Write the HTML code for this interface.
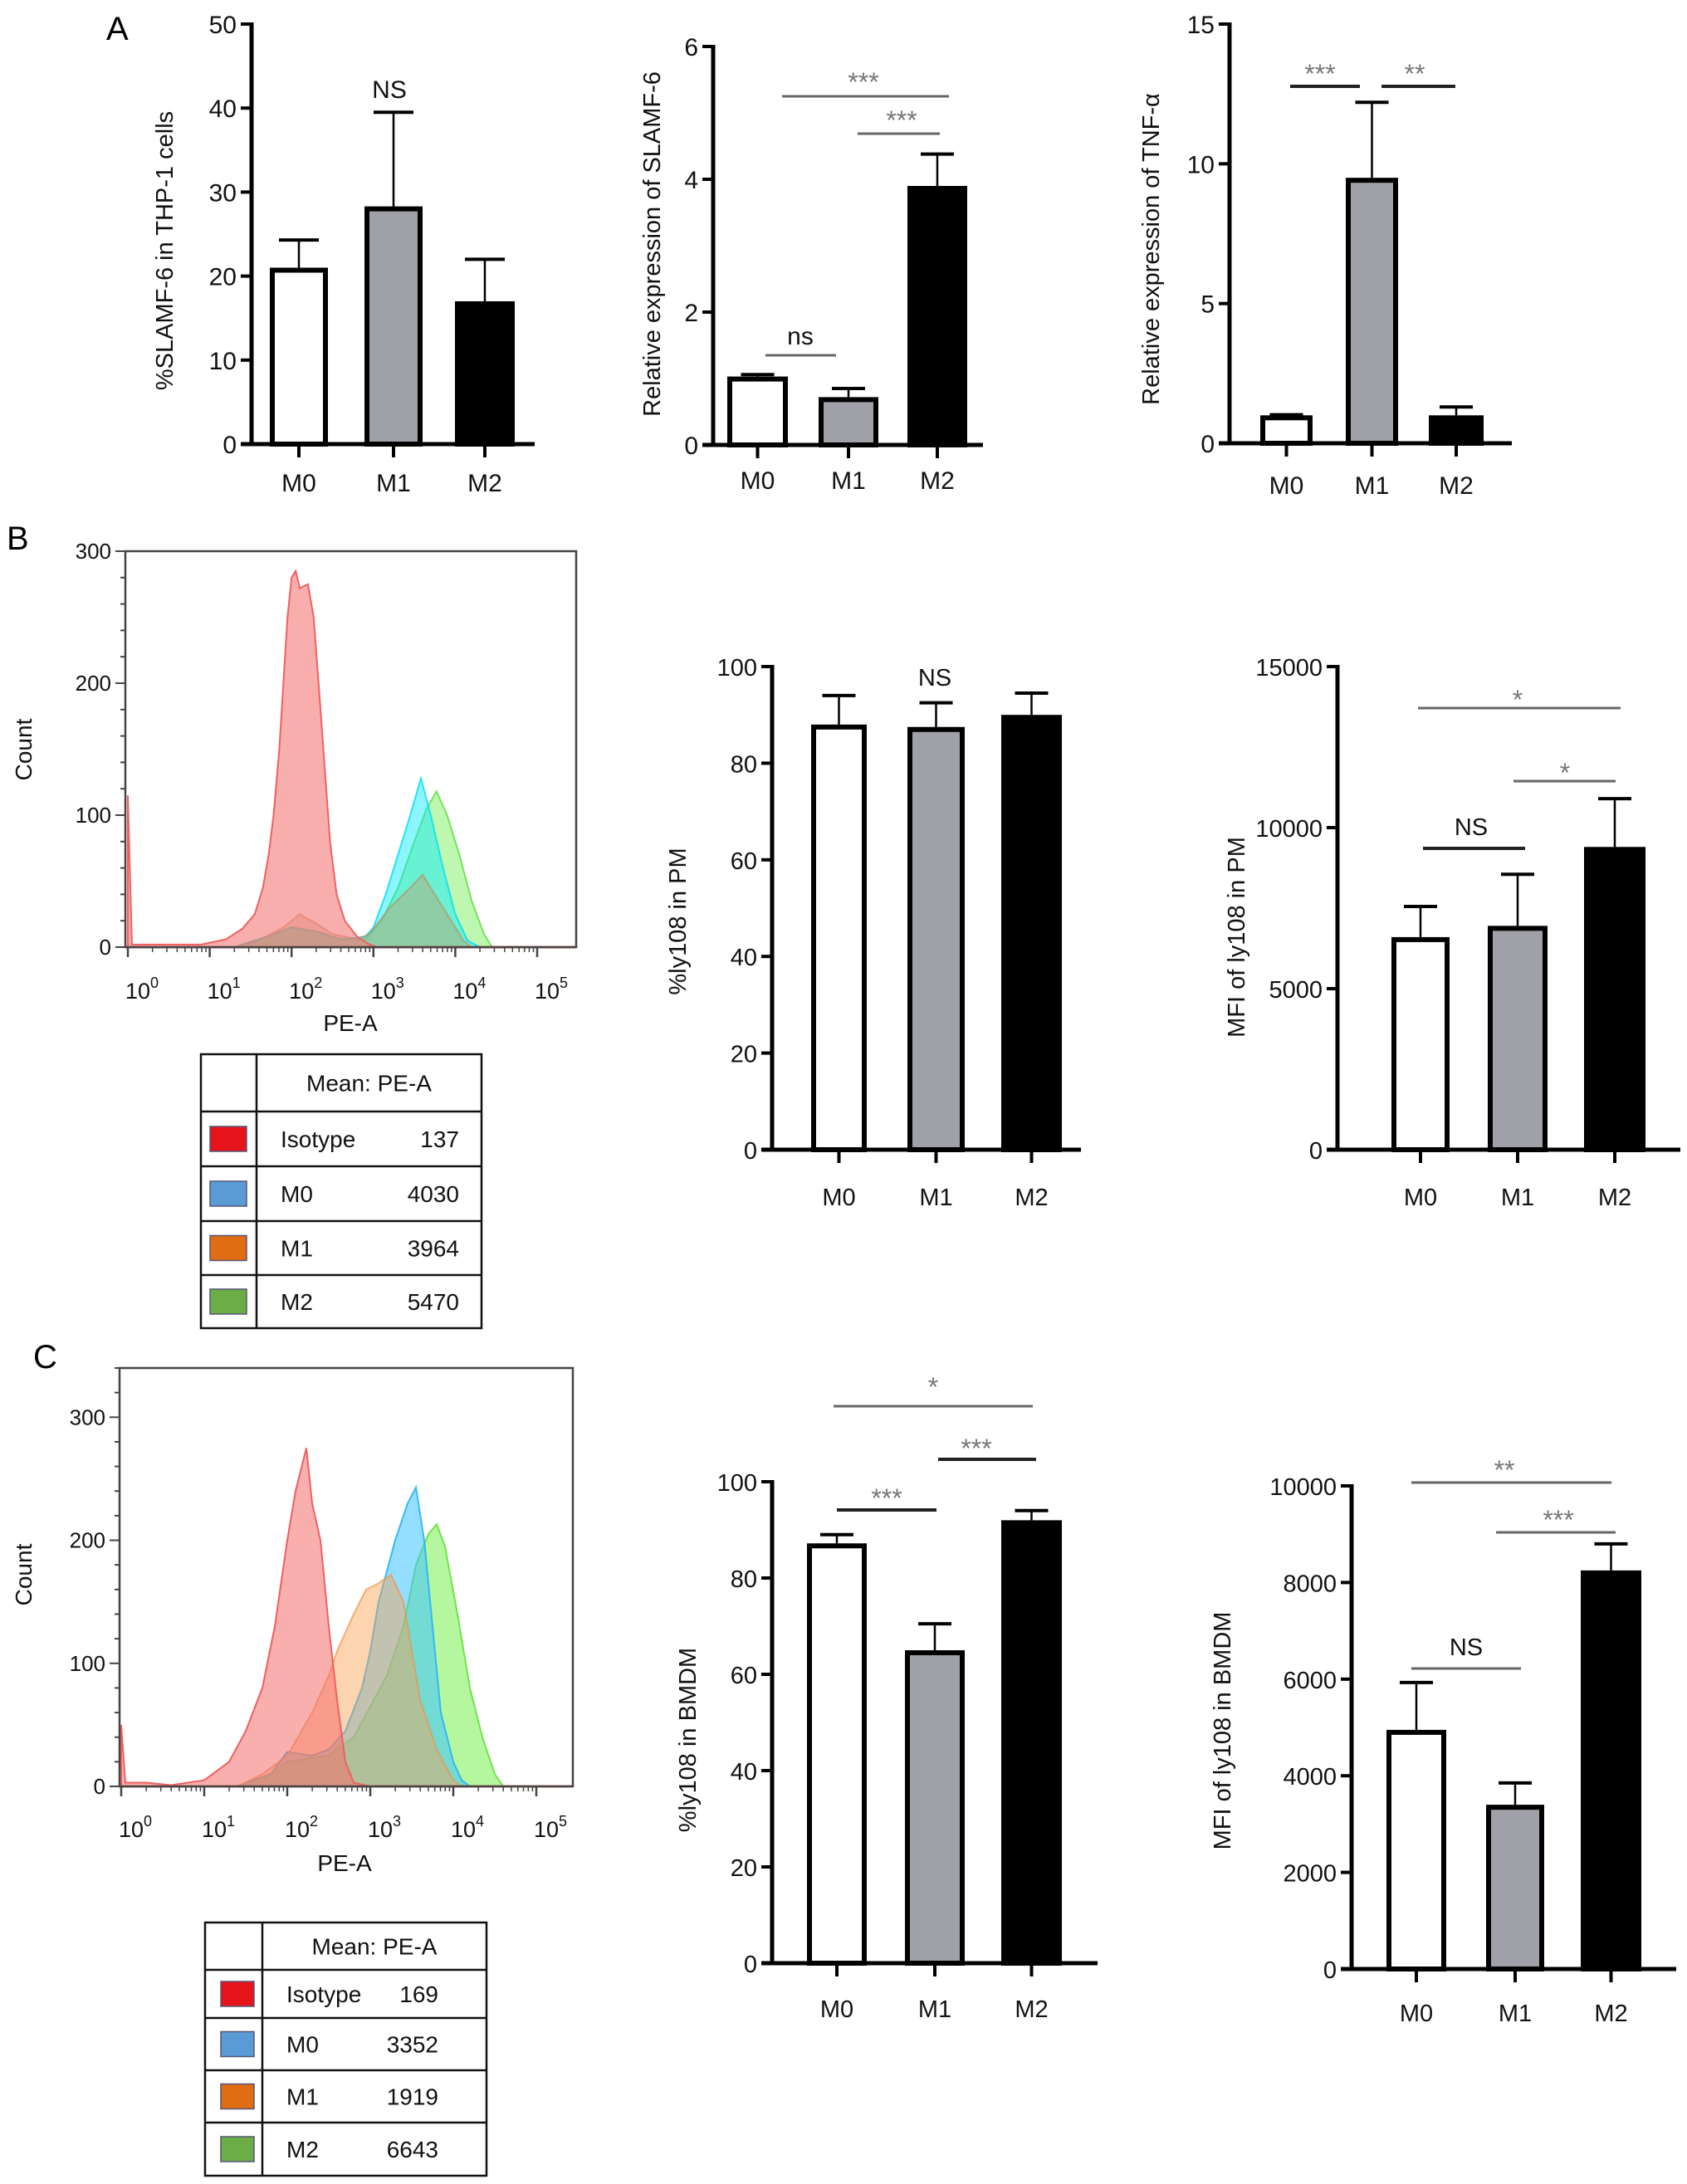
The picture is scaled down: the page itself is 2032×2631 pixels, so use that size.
<!DOCTYPE html>
<html><head><meta charset="utf-8">
<style>
html,body{margin:0;padding:0;background:#fff;}
svg{display:block;font-family:"Liberation Sans",Arial,sans-serif;}
</style></head>
<body>
<svg id="fig" xmlns="http://www.w3.org/2000/svg" width="2032" height="2631" viewBox="0 0 2032 2631">
<rect width="2032" height="2631" fill="#fff"/>
<text x="128" y="48" font-size="40">A</text>
<text x="8" y="662" font-size="40">B</text>
<text x="40" y="1648" font-size="40">C</text>
</svg>
<script>
// ---------- data ----------
const categories = ['M0','M1','M2'];
const a1Values = [21, 28.3, 17];
const a1Errors = [24.3, 39.5, 22];
const a1Ticks = [0,10,20,30,40,50];
const a2Values = [1.03, 0.72, 3.9];
const a2Errors = [1.06, 0.85, 4.38];
const a2Ticks = [0,2,4,6];
const a3Values = [1.0, 9.5, 1.0];
const a3Errors = [1.02, 12.2, 1.3];
const a3Ticks = [0,5,10,15];
const b2Values = [88, 87.5, 90];
const b2Errors = [94, 92.5, 94.5];
const b2Ticks = [0,20,40,60,80,100];
const b3Values = [6600, 6950, 9400];
const b3Errors = [7550, 8550, 10900];
const b3Ticks = [0,5000,10000,15000];
const c2Values = [87.2, 65, 92];
const c2Errors = [89, 70.5, 94];
const c2Ticks = [0,20,40,60,80,100];
const c3Values = [4950, 3400, 8250];
const c3Errors = [5930, 3850, 8800];
const c3Ticks = [0,2000,4000,6000,8000,10000];

// histogram curves: [log10 decade, count]
const bIsoCurve = [[0,115],[0.05,2],[0.9,2],[1.2,6],[1.4,14],[1.55,25],[1.65,45],[1.72,70],[1.78,100],[1.85,150],[1.9,200],[1.95,250],[2.0,280],[2.05,285],[2.1,272],[2.2,275],[2.27,250],[2.33,200],[2.4,140],[2.47,80],[2.55,40],[2.65,20],[2.8,8],[2.95,2],[3.05,0]];
const bM0Curve = [[1.3,0],[1.7,8],[2.0,15],[2.3,12],[2.6,6],[2.9,8],[3.0,15],[3.15,40],[3.3,70],[3.45,100],[3.58,128],[3.7,100],[3.85,60],[4.0,25],[4.15,5],[4.3,0]];
const bM1Curve = [[1.3,0],[1.6,5],[1.9,15],[2.1,25],[2.3,18],[2.5,10],[2.8,6],[2.95,10],[3.2,30],[3.45,45],[3.6,55],[3.75,40],[3.95,20],[4.1,5],[4.2,0]];
const bM2Curve = [[1.3,0],[1.7,8],[2.0,15],[2.3,12],[2.6,6],[2.9,6],[3.1,20],[3.3,45],[3.5,80],[3.65,105],[3.77,118],[3.9,100],[4.05,70],[4.2,35],[4.35,10],[4.45,0]];
const cIsoCurve = [[0,50],[0.05,3],[0.3,3],[0.6,1],[1.0,5],[1.3,20],[1.5,45],[1.7,80],[1.85,130],[2.0,200],[2.1,240],[2.23,275],[2.3,230],[2.4,200],[2.5,130],[2.6,70],[2.7,20],[2.8,3],[3.0,0]];
const cM0Curve = [[1.4,0],[1.8,10],[2.0,28],[2.3,25],[2.5,30],[2.7,45],[2.9,80],[3.0,110],[3.1,150],[3.3,200],[3.45,230],[3.55,243],[3.65,200],[3.75,130],[3.85,60],[4.0,20],[4.1,5],[4.2,0]];
const cM1Curve = [[1.4,0],[1.7,10],[2.0,25],[2.3,60],[2.5,90],[2.6,110],[2.8,140],[2.95,160],[3.1,165],[3.25,172],[3.4,150],[3.5,110],[3.6,70],[3.8,30],[4.0,5],[4.1,0]];
const cM2Curve = [[1.4,0],[1.8,10],[2.0,20],[2.5,25],[2.8,40],[3.0,65],[3.2,90],[3.4,130],[3.55,180],[3.7,205],[3.8,213],[3.9,195],[4.05,140],[4.2,80],[4.35,40],[4.5,10],[4.6,0]];
const histTickLabels = ['0','100','200','300'];
const decades = [0,1,2,3,4,5];
const legendNames = ['Isotype','M0','M1','M2'];
const bLegendValues = ['137','4030','3964','5470'];
const cLegendValues = ['169','3352','1919','6643'];

// ---------- helpers ----------
const NS='http://www.w3.org/2000/svg';
const svg=document.getElementById('fig');
function mk(tag, attrs, parent){
  const e=document.createElementNS(NS,tag);
  for(const k in attrs) e.setAttribute(k,attrs[k]);
  (parent||svg).appendChild(e);
  return e;
}
const barFills=['#ffffff','#a0a0a8','#000000'];

function drawBar(cfg){
  const g=mk('g',{});
  
  
  const yS=v=>cfg.y0-(v/cfg.max)*(cfg.y0-cfg.yTop);
  const ya=mk('line',{x1:cfg.ax,y1:cfg.yTop-2,x2:cfg.ax,y2:cfg.y0,stroke:'#000','stroke-width':5},g);
  
  
  cfg.ticks.forEach(t=>{
    const y=yS(t);
    mk('line',{x1:cfg.ax-13,y1:y,x2:cfg.ax,y2:y,stroke:'#000','stroke-width':4},g);
    const tl=mk('text',{x:cfg.ax-18,y:y+11,'font-size':cfg.fs,'text-anchor':'end',fill:'#111'},g);
    tl.textContent=String(t);
    
    
  });
  cfg.bars.forEach((b,i)=>{
    const x1=b[0],x2=b[1],cx=(x1+x2)/2,yv=yS(cfg.values[i]),ye=yS(cfg.errors[i]);
    const eb=mk('line',{x1:cx,y1:yv,x2:cx,y2:ye,stroke:'#000','stroke-width':2.5},g);
    
    
    mk('line',{x1:cx-cfg.cap,y1:ye,x2:cx+cfg.cap,y2:ye,stroke:'#000','stroke-width':4},g);
    const r=mk('rect',{x:x1+3,y:yv+3,width:x2-x1-6,height:Math.max(0,cfg.y0-yv-3),fill:barFills[i],stroke:'#000','stroke-width':6},g);
    
    
    mk('line',{x1:cx,y1:cfg.y0,x2:cx,y2:cfg.y0+16,stroke:'#000','stroke-width':4},g);
    const xl=mk('text',{x:cx,y:cfg.labelY,'font-size':cfg.fs,'text-anchor':'middle',fill:'#111'},g);
    xl.textContent=categories[i];
    
    
  });
  const xa=mk('line',{x1:cfg.ax-13,y1:cfg.y0,x2:cfg.endX,y2:cfg.y0,stroke:'#000','stroke-width':5},g);
  
  
  const t=mk('text',{x:cfg.titleX,y:cfg.titleY,'font-size':cfg.tfs,'text-anchor':'middle',fill:'#111',transform:`rotate(-90 ${cfg.titleX} ${cfg.titleY})`},g);
  t.textContent=cfg.title;
  
  
  (cfg.sig||[]).forEach(s=>{
    if(s.line){
      const l=mk('line',{x1:s.line[0],y1:s.line[2],x2:s.line[1],y2:s.line[2],stroke:s.dark?'#222':'#666','stroke-width':s.dark?4:3},g);
      
      
    }
    const st=mk('text',{x:s.tx,y:s.ty+(s.fs?0:6),'font-size':s.fs||32,'text-anchor':'middle',fill:s.txtDark?'#111':'#777'},g);
    st.textContent=s.text;
    
    
  });
}

drawBar({name:'chart-a1-slamf6-percent',ax:303,y0:535,yTop:29,max:50,ticks:a1Ticks,values:a1Values,errors:a1Errors,
  bars:[[325,395],[439,509],[548,620]],endX:644,labelY:592,fs:30,tfs:29,cap:24,
  title:'%SLAMF-6 in THP-1 cells',titleX:208,titleY:302,
  sig:[{text:'NS',tx:469,ty:118,fs:30,txtDark:true}]});
drawBar({name:'chart-a2-slamf6-expression',ax:859,y0:536,yTop:56,max:6,ticks:a2Ticks,values:a2Values,errors:a2Errors,
  bars:[[876,949],[986,1058],[1093,1165]],endX:1184,labelY:589,fs:30,tfs:29,cap:20,
  title:'Relative expression of SLAMF-6',titleX:795,titleY:294,
  sig:[{line:[942,1143,116],text:'***',tx:1040,ty:104},{line:[1033,1132,161],text:'***',tx:1086,ty:150},{line:[922,1007,428],text:'ns',tx:964,ty:415,fs:30,txtDark:true}]});
drawBar({name:'chart-a3-tnf-expression',ax:1481,y0:534,yTop:29,max:15,ticks:a3Ticks,values:a3Values,errors:a3Errors,
  bars:[[1518,1581],[1621,1684],[1721,1787]],endX:1821,labelY:595,fs:30,tfs:29,cap:20,
  title:'Relative expression of TNF-α',titleX:1396,titleY:300,
  sig:[{line:[1554,1638,104],dark:true,text:'***',tx:1590,ty:94},{line:[1664,1753,104],dark:true,text:'**',tx:1704,ty:94}]});
drawBar({name:'chart-b2-ly108-percent-pm',ax:930,y0:1385,yTop:803,max:100,ticks:b2Ticks,values:b2Values,errors:b2Errors,
  bars:[[977,1044],[1093,1162],[1206,1279]],endX:1302,labelY:1452,fs:29,tfs:29,cap:20,
  title:'%ly108 in PM',titleX:826,titleY:1110,
  sig:[{text:'NS',tx:1126,ty:826,fs:29,txtDark:true}]});
drawBar({name:'chart-b3-ly108-mfi-pm',ax:1611,y0:1385,yTop:803,max:15000,ticks:b3Ticks,values:b3Values,errors:b3Errors,
  bars:[[1676,1746],[1792,1864],[1908,1982]],endX:2024,labelY:1452,fs:29,tfs:29,cap:20,
  title:'MFI of ly108 in PM',titleX:1499,titleY:1129,
  sig:[{line:[1708,1952,853],text:'*',tx:1828,ty:848},{line:[1823,1946,941],text:'*',tx:1885,ty:936},{line:[1714,1837,1022],dark:true,text:'NS',tx:1772,ty:1006,fs:29,txtDark:true}]});
drawBar({name:'chart-c2-ly108-percent-bmdm',ax:930,y0:2365,yTop:1785,max:100,ticks:c2Ticks,values:c2Values,errors:c2Errors,
  bars:[[972,1044],[1090,1162],[1206,1279]],endX:1322,labelY:2430,fs:29,tfs:29,cap:20,
  title:'%ly108 in BMDM',titleX:838,titleY:2096,
  sig:[{line:[1004,1244,1694],text:'*',tx:1124,ty:1676},{line:[1130,1248,1758],dark:true,text:'***',tx:1176,ty:1750},{line:[1008,1128,1819],dark:true,text:'***',tx:1068,ty:1810}]});
drawBar({name:'chart-c3-ly108-mfi-bmdm',ax:1628,y0:2372,yTop:1790,max:10000,ticks:c3Ticks,values:c3Values,errors:c3Errors,
  bars:[[1670,1742],[1790,1860],[1904,1977]],endX:2019,labelY:2435,fs:29,tfs:29,cap:20,
  title:'MFI of ly108 in BMDM',titleX:1482,titleY:2085,
  sig:[{line:[1700,1941,1786],text:'**',tx:1812,ty:1776},{line:[1802,1946,1846],text:'***',tx:1877,ty:1836},{line:[1700,1832,2010],text:'NS',tx:1766,ty:1994,fs:29,txtDark:true}]});

// ---------- histograms ----------
function drawHist(cfg){
  const g=mk('g',{});
  
  
  const X=d=>cfg.x0+d*cfg.dec;
  const Y=c=>cfg.base-c/cfg.ymax*(cfg.base-cfg.T);
  cfg.curves.forEach(cv=>{
    let d=`M${X(cv.pts[0][0])},${cfg.base}`;
    cv.pts.forEach(p=>{d+=` L${X(p[0])},${Y(p[1])}`;});
    d+=` L${X(cv.pts[cv.pts.length-1][0])},${cfg.base} Z`;
    const p=mk('path',{d:d,fill:cv.fill,stroke:cv.stroke,'stroke-width':2},g);
    
    
  });
  mk('line',{x1:cfg.L,y1:cfg.base,x2:cfg.R,y2:cfg.base,stroke:'#f08080','stroke-width':3},g);
  const fr=mk('rect',{x:cfg.L,y:cfg.T,width:cfg.R-cfg.L,height:cfg.base-cfg.T,fill:'none',stroke:'#444','stroke-width':2.5},g);
  
  
  for(let c=0;c<=cfg.ymax;c+=20){
    mk('line',{x1:cfg.L-(c%100===0?12:6),y1:Y(c),x2:cfg.L,y2:Y(c),stroke:'#444','stroke-width':2},g);
  }
  histTickLabels.forEach(s=>{
    const t=mk('text',{x:cfg.L-17,y:Y(+s)+9,'font-size':26,'text-anchor':'end',fill:'#111'},g);
    t.textContent=s;
    
    
  });
  decades.forEach(k=>{
    mk('line',{x1:X(k),y1:cfg.base,x2:X(k),y2:cfg.base+12,stroke:'#444','stroke-width':2.5},g);
    if(k<5) for(let m=2;m<10;m++){const x=X(k+Math.log10(m));if(x<cfg.R) mk('line',{x1:x,y1:cfg.base,x2:x,y2:cfg.base+6,stroke:'#444','stroke-width':1.5},g);}
    const t=mk('text',{x:X(k)+12,y:cfg.labBase,'font-size':27,'text-anchor':'middle',fill:'#111'},g);
    t.textContent='10';
    
    
    const s=mk('text',{x:X(k)+27,y:cfg.labBase-13,'font-size':18,fill:'#111'},g);
    s.textContent=String(k);
    
    
  });
  const xt=mk('text',{x:cfg.xtX,y:cfg.xtY,'font-size':28,'text-anchor':'middle',fill:'#111'},g);
  xt.textContent='PE-A';
  
  
  const yt=mk('text',{x:38,y:cfg.ytY,'font-size':28,'text-anchor':'middle',fill:'#111',transform:`rotate(-90 38 ${cfg.ytY})`},g);
  yt.textContent='Count';
  
  
  const lg=cfg.leg;
  const tg=mk('g',{},g);
  
  
  const rows=lg.rows;
  mk('rect',{x:lg.l,y:rows[0],width:lg.r-lg.l,height:rows[rows.length-1]-rows[0],fill:'none',stroke:'#111','stroke-width':2.5},tg);
  mk('line',{x1:lg.div,y1:rows[0],x2:lg.div,y2:rows[rows.length-1],stroke:'#111','stroke-width':2.5},tg);
  for(let i=1;i<rows.length-1;i++) mk('line',{x1:lg.l,y1:rows[i],x2:lg.r,y2:rows[i],stroke:'#111','stroke-width':2.5},tg);
  const h=mk('text',{x:(lg.div+lg.r)/2,y:(rows[0]+rows[1])/2+10,'font-size':28,'text-anchor':'middle',fill:'#111'},tg);
  h.textContent='Mean: PE-A';
  
  
  const sw=['#e8141c','#5b9bd5','#e06c14','#6aae45'];
  legendNames.forEach((n,i)=>{
    const cy=(rows[i+1]+rows[i+2])/2;
    const r=mk('rect',{x:lg.sx,y:cy-15,width:lg.sw,height:30,fill:sw[i],stroke:'#557','stroke-width':1.5},tg);
    
    
    const t=mk('text',{x:lg.div+29,y:cy+10,'font-size':28,fill:'#111'},tg);
    t.textContent=n;
    
    
    const v=mk('text',{x:lg.vr,y:cy+10,'font-size':28,'text-anchor':'end',fill:'#111'},tg);
    v.textContent=lg.values[i];
    
    
  });
}

drawHist({name:'histogram-b',L:151,R:694,T:664,base:1141,ymax:300,x0:154,dec:98.6,labBase:1203,xtX:422,xtY:1242,ytY:903,
  curves:[
    {key:'m2',pts:bM2Curve,fill:'rgba(110,240,80,0.45)',stroke:'rgba(90,220,60,0.8)'},
    {key:'m0',pts:bM0Curve,fill:'rgba(0,235,255,0.45)',stroke:'rgba(0,220,250,0.8)'},
    {key:'m1',pts:bM1Curve,fill:'rgba(200,150,100,0.4)',stroke:'rgba(190,140,90,0.6)'},
    {key:'isotype',pts:bIsoCurve,fill:'rgba(245,120,120,0.6)',stroke:'#f06060'}],
  leg:{l:242,r:580,div:309,rows:[1270,1339,1405,1471,1536,1600],sx:253,sw:44,vr:553,values:bLegendValues}});
drawHist({name:'histogram-c',L:144,R:690,T:1648,base:2152,ymax:340,x0:146,dec:100,labBase:2213,xtX:415,xtY:2254,ytY:1897,
  curves:[
    {key:'m2',pts:cM2Curve,fill:'rgba(120,240,80,0.55)',stroke:'rgba(100,225,60,0.9)'},
    {key:'m0',pts:cM0Curve,fill:'rgba(60,195,255,0.55)',stroke:'rgba(40,180,250,0.9)'},
    {key:'m1',pts:cM1Curve,fill:'rgba(250,160,80,0.45)',stroke:'rgba(240,150,70,0.7)'},
    {key:'isotype',pts:cIsoCurve,fill:'rgba(245,110,110,0.55)',stroke:'#f06060'}],
  leg:{l:247,r:586,div:316,rows:[2316,2373,2431,2494,2557,2621],sx:266,sw:40,vr:528,values:cLegendValues}});
</script>
</body></html>
